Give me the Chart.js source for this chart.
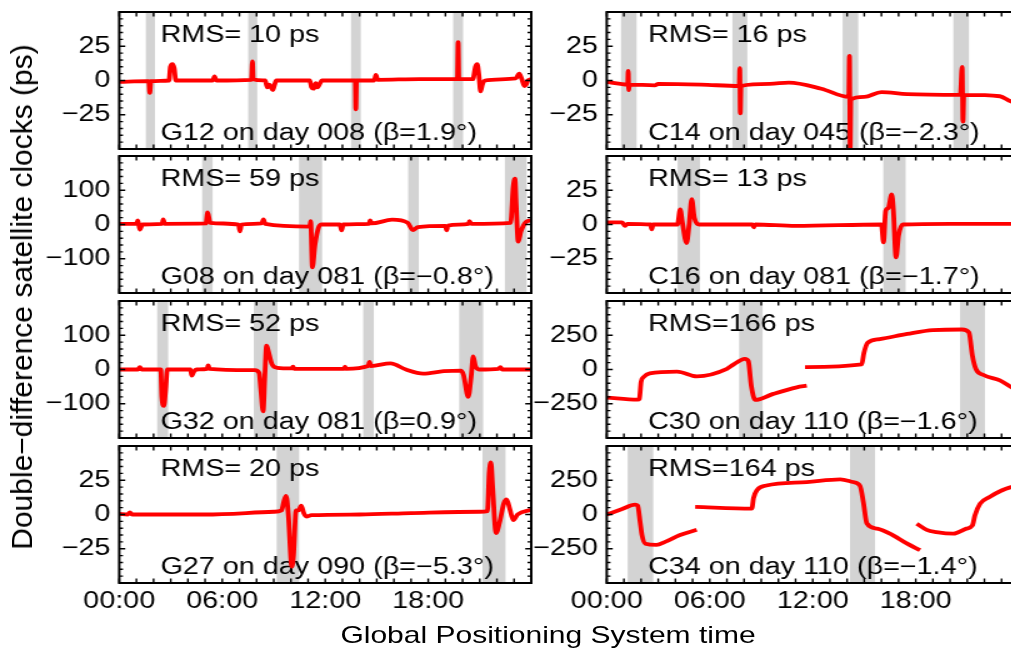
<!DOCTYPE html>
<html>
<head>
<meta charset="utf-8">
<script src="https://cdn.jsdelivr.net/npm/chart.js@4.4.1/dist/chart.umd.min.js"></script>
<style>
  html, body { margin: 0; padding: 0; background: #fff; width: 1011px; height: 651px; overflow: hidden; }
  /* the original figure has wide, low lettering: draw at 1x and stretch sideways */
  #fig { position: absolute; left: 0; top: 0; width: 809px; height: 651px; transform: scaleX(1.25); transform-origin: 0 0; }
  #fig canvas { position: absolute; }
  #xtitle { position: absolute; left: 438.4px; top: 622.5px; transform: translateX(-50%); white-space: nowrap;
    font: 24px "Liberation Sans", Arial, sans-serif; line-height: 24px; color: #000; }
  #ytitle { position: absolute; left: 22px; top: 297px; transform: translate(-50%, -50%) rotate(-90deg); white-space: nowrap;
    font: 30px "Liberation Sans", Arial, sans-serif; line-height: 30px; color: #000; }
</style>
</head>
<body>
<div id="fig">
  <div id="xtitle">Global Positioning System time</div>
</div>
<div id="ytitle">Double&#8722;difference satellite clocks (ps)</div>
<script>
// x axis: hours of the day
const hourTicks = [0, 6, 12, 18];
const hourLabels = ['00:00', '06:00', '12:00', '18:00'];

// y axis labels for the three panel ranges
const ticks50 = [-25, 0, 25];
const ticks200 = [-100, 0, 100];
const ticks500 = [-250, 0, 250];

// eclipse seasons (shaded), [start, end] in hours
const g12Shade = [[1.55, 2.08], [7.51, 8.04], [13.5, 14.07], [19.45, 20.03]];
const c14Shade = [[0.83, 1.74], [7.32, 8.19], [13.74, 14.65], [20.19, 21.1]];
const g08Shade = [[4.83, 5.44], [10.47, 11.82], [16.83, 17.45], [22.46, 23.73]];
const c16Shade = [[4.13, 5.43], [16.11, 17.41]];
const g32Shade = [[2.21, 2.85], [7.84, 9.22], [14.21, 14.83], [19.8, 21.2]];
const c30Shade = [[7.71, 9.08], [20.58, 22.03]];
const g27Shade = [[9.17, 10.48], [21.16, 22.5]];
const c34Shade = [[1.22, 2.71], [14.17, 15.63]];

// double-difference clock series, [hour, ps]; null starts a new arc
const g12Clock = [[0, -1], [1.6, -0.5], [1.72, -0.5], [1.78, -9], [1.84, -0.5], [2.9, 0], [2.98, 10], [3.1, 12], [3.2, 9], [3.3, 0],
  [5.45, 0], [5.55, 3], [5.65, 0], [7.7, 0.5], [7.76, 14], [7.8, 1], [8.5, 0], [8.62, -5], [8.75, -3], [8.85, -5], [8.95, -7],
  [9.05, -3], [9.15, 0], [11.1, 0], [11.2, -5], [11.32, -6], [11.45, -2], [11.55, -5], [11.7, -2], [11.8, 0], [13.75, 0],
  [13.78, -21], [13.82, 0], [14.85, 0], [14.95, 4], [15.05, 0.5], [17.5, 1], [19.7, 1], [19.74, 28], [19.78, 1], [20.6, 1],
  [20.75, 10], [20.85, 12], [20.95, 4], [21.05, -8], [21.15, -3], [21.3, 0], [23.1, 1.5], [23.3, 5], [23.45, 1], [23.6, -4],
  [23.7, -3], [23.8, 0], [24, 1]];
const c14Clock = [[0, -1], [0.8, -2.5], [1.22, -3], [1.25, 7], [1.28, -7], [1.32, -3], [2.8, -3.5], [3.0, -2.5], [5.5, -3],
  [7.72, -4], [7.75, 9], [7.78, -24], [7.82, -4], [9.5, -2.5], [10.6, -1.5], [12.5, -6], [14.1, -12], [14.14, 18], [14.18, -50],
  [14.22, -14], [15, -12], [16.0, -8.5], [17.5, -10], [20.6, -10.5], [20.7, 10], [20.75, -30], [20.8, -10.5], [22.9, -11.5],
  [23.5, -15], [24, -17]];
const g08Clock = [[0, 2], [1.0, 2], [1.08, 12], [1.2, -15], [1.35, 0], [2.5, 2], [2.56, 15], [2.65, 2], [5.05, 3], [5.15, 35],
  [5.3, 5], [6.95, 0], [7.03, -20], [7.12, 0], [8.3, 3], [8.4, 15], [8.5, 2], [11.1, -6], [11.15, 10], [11.25, -125], [11.4, -60],
  [11.6, -10], [11.8, 0], [12.85, 0], [12.95, -17], [13.05, 0], [14.55, 2], [14.62, 12], [14.7, 3], [15.9, 14], [16.8, 5],
  [17.1, -16], [17.4, -8], [19.0, -4], [19.07, -17], [19.15, -3], [20.35, 2], [20.4, 10], [20.5, 2], [22.8, 5], [22.95, 110],
  [23.05, 134], [23.12, 60], [23.24, -50], [23.4, -20], [23.7, 8], [24, 12]];
const c16Clock = [[0, 1.5], [0.9, 1.5], [1.05, -1], [1.2, 0.5], [2.55, 0], [2.62, -3.5], [2.7, 0], [4.12, 0], [4.28, 11], [4.4, 2],
  [4.65, -13.5], [4.8, 0], [4.95, 18.5], [5.1, 5], [5.4, 0], [8.5, 0], [8.56, -2], [8.65, 0], [11, -1], [16.0, 0], [16.12, -13],
  [16.25, 10], [16.4, 12], [16.6, 22], [16.7, 10], [16.85, -24], [17.0, -8], [17.25, 0], [20, 0.5], [24, 0.5]];
const g32Clock = [[0, 0], [1.1, 0], [1.2, 7], [1.3, 0], [2.42, 0], [2.48, -80], [2.6, -106], [2.7, -60], [2.8, 0], [4.15, 0],
  [4.22, -18], [4.35, -6], [4.5, 0], [5.12, 2], [5.18, 12], [5.25, 2], [7.9, -2], [8.15, -10], [8.25, -60], [8.38, -122],
  [8.48, -20], [8.58, 70], [8.65, 60], [8.9, 15], [9.2, 5], [10.05, 3], [10.12, 8], [10.2, 2], [13.1, 2], [13.15, 8], [13.2, 2],
  [14.5, 10], [14.58, 22], [14.66, 10], [15.8, 18], [16.7, 0], [17.7, -12], [18.9, -5], [19.9, -3], [20.05, -15], [20.33, -80],
  [20.5, -20], [20.62, 38], [20.75, 10], [21.0, 0], [22.1, 2], [22.2, 7], [22.3, 0], [24, 0]];
const c30Clock = [[0, -205], [1.8, -220], [1.9, -215], [2.0, -90], [2.15, -55], [2.5, -28], [4.1, -15], [5.25, -50], [7.0, 5],
  [7.3, 30], [8.05, 78], [8.25, 60], [8.42, -120], [8.65, -222], [9.7, -178], [11.07, -130], [11.65, -118], [11.65, null],
  [11.55, 18], [14.85, 37], [14.98, 120], [15.2, 195], [15.9, 222], [17.5, 260], [19.0, 288], [20.7, 292], [21.1, 270],
  [21.3, 100], [21.5, 5], [21.95, -40], [22.9, -80], [23.55, -128], [24, -160]];
const g27Clock = [[0, 0.5], [0.5, 0], [0.62, 1.5], [0.75, 0], [5, 0], [9.0, 2], [9.45, 3], [9.6, 10], [9.72, 13.5], [9.85, 0],
  [10.05, -38], [10.15, -30], [10.3, 3], [10.45, 3], [10.6, 6.5], [10.75, 1], [10.9, -1.5], [11.2, -0.5], [14, 0], [17, 1],
  [21.0, 2], [21.45, 2.5], [21.55, 30], [21.65, 38], [21.75, 20], [21.95, -13.5], [22.15, -6], [22.4, 8], [22.56, 11],
  [22.75, 4], [22.95, -4], [23.2, 0], [24, 3.5]];
const c34Clock = [[0, 0], [0.9, 40], [1.65, 72], [1.8, 65], [1.95, -60], [2.05, -150], [2.25, -213], [2.9, -222], [3.4, -200],
  [4.27, -150], [5.24, -112], [5.24, null], [5.15, 55], [8.45, 43], [8.55, 120], [8.75, 178], [9.3, 212], [11.65, 237],
  [13.6, 257], [14.35, 237], [14.75, 210], [14.95, 90], [15.15, -65], [15.75, -103], [16.5, -140], [17.5, -213], [18.25, -260],
  [18.25, null], [18.06, -67], [18.64, -112], [19.2, -128], [20.2, -140], [20.95, -103], [21.3, -80], [21.45, -5], [21.75, 79],
  [22.3, 128], [23.0, 175], [23.5, 198], [24, 210]];

var panels = [
  { col: 0, row: 0, pts: g12Clock, shade: g12Shade, range: 50, major: ticks50, minor: 5, rms: 'RMS= 10 ps', label: 'G12 on day 008 (\u03b2=1.9\u00b0)' },
  { col: 1, row: 0, pts: c14Clock, shade: c14Shade, range: 50, major: ticks50, minor: 5, rms: 'RMS= 16 ps', label: 'C14 on day 045 (\u03b2=\u22122.3\u00b0)' },
  { col: 0, row: 1, pts: g08Clock, shade: g08Shade, range: 200, major: ticks200, minor: 20, rms: 'RMS= 59 ps', label: 'G08 on day 081 (\u03b2=\u22120.8\u00b0)' },
  { col: 1, row: 1, pts: c16Clock, shade: c16Shade, range: 50, major: ticks50, minor: 5, rms: 'RMS= 13 ps', label: 'C16 on day 081 (\u03b2=\u22121.7\u00b0)' },
  { col: 0, row: 2, pts: g32Clock, shade: g32Shade, range: 200, major: ticks200, minor: 20, rms: 'RMS= 52 ps', label: 'G32 on day 081 (\u03b2=0.9\u00b0)' },
  { col: 1, row: 2, pts: c30Clock, shade: c30Shade, range: 500, major: ticks500, minor: 50, rms: 'RMS=166 ps', label: 'C30 on day 110 (\u03b2=\u22121.6\u00b0)' },
  { col: 0, row: 3, pts: g27Clock, shade: g27Shade, range: 50, major: ticks50, minor: 5, rms: 'RMS= 20 ps', label: 'G27 on day 090 (\u03b2=\u22125.3\u00b0)' },
  { col: 1, row: 3, pts: c34Clock, shade: c34Shade, range: 500, major: ticks500, minor: 50, rms: 'RMS=164 ps', label: 'C34 on day 110 (\u03b2=\u22121.4\u00b0)' }
];

var FONT = '"Liberation Sans", Arial, Helvetica, sans-serif';
Chart.defaults.font.family = FONT;
Chart.defaults.font.size = 23;
Chart.defaults.color = '#000';

// canvas placement, in unstretched px
var colLeft = [25, 415];
var rowTop = [12, 156, 301, 446];

function segments(pts) {
  var out = [[]];
  pts.forEach(function (q) {
    if (q[1] === null) out.push([]);
    else out[out.length - 1].push({ x: q[0], y: q[1] });
  });
  return out;
}

function minusSign(v) {
  return v < 0 ? '\u2212' + Math.abs(v) : String(v);
}

function decor(p) {
  return {
    id: 'decor',
    beforeDatasetsDraw: function (chart) {
      var ctx = chart.ctx, a = chart.chartArea, x = chart.scales.x;
      ctx.save();
      ctx.fillStyle = '#d3d3d3';
      p.shade.forEach(function (s) {
        var x0 = x.getPixelForValue(s[0]), x1 = x.getPixelForValue(s[1]);
        ctx.fillRect(x0, a.top, x1 - x0, a.bottom - a.top);
      });
      ctx.fillStyle = '#000';
      ctx.font = '23px ' + FONT;
      ctx.textBaseline = 'alphabetic';
      ctx.textAlign = 'left';
      ctx.fillText(p.rms, a.left + 33, a.top + 29.5);
      ctx.fillText(p.label, a.left + 33, a.top + 128);
      ctx.restore();
    },
    afterDatasetsDraw: function (chart) {
      var ctx = chart.ctx, a = chart.chartArea, x = chart.scales.x, y = chart.scales.y;
      var h, v, px, py, len;
      ctx.save();
      ctx.strokeStyle = '#000';
      ctx.lineWidth = 1.4;
      ctx.beginPath();
      for (h = 0; h <= 24; h += 1) {
        px = x.getPixelForValue(h);
        ctx.moveTo(px, a.top); ctx.lineTo(px, a.top + 4.5);
        ctx.moveTo(px, a.bottom); ctx.lineTo(px, a.bottom - 4.5);
      }
      for (v = -p.range; v <= p.range; v += p.minor) {
        py = y.getPixelForValue(v);
        len = p.major.indexOf(v) >= 0 ? 4.8 : 3;
        ctx.moveTo(a.left, py); ctx.lineTo(a.left + len, py);
        ctx.moveTo(a.right, py); ctx.lineTo(a.right - len, py);
      }
      ctx.stroke();
      ctx.lineWidth = 2;
      ctx.strokeRect(a.left, a.top, a.right - a.left, a.bottom - a.top);
      ctx.restore();
    }
  };
}

var fig = document.getElementById('fig');

panels.forEach(function (p) {
  var last = p.row === 3;
  var w = 410, hgt = last ? 195 : 153;
  var cv = document.createElement('canvas');
  cv.width = w; cv.height = hgt;
  cv.style.width = w + 'px'; cv.style.height = hgt + 'px';
  cv.style.left = colLeft[p.col] + 'px';
  cv.style.top = (rowTop[p.row] - 8) + 'px';
  fig.appendChild(cv);

  new Chart(cv, {
    type: 'line',
    data: {
      datasets: segments(p.pts).map(function (seg) {
        return {
          data: seg,
          borderColor: '#ff0000',
          borderWidth: 3.8,
          pointRadius: 0,
          fill: false,
          cubicInterpolationMode: 'monotone'
        };
      })
    },
    options: {
      responsive: false,
      animation: false,
      events: [],
      layout: { padding: { top: 8, right: 10, bottom: 8, left: 0 } },
      plugins: { legend: { display: false }, tooltip: { enabled: false } },
      scales: {
        x: {
          type: 'linear', min: 0, max: 24,
          grid: { display: false, drawTicks: false },
          border: { display: false },
          ticks: {
            display: last, autoSkip: false, maxRotation: 0, padding: 5,
            callback: function (v) { return hourLabels[hourTicks.indexOf(v)]; }
          },
          afterBuildTicks: function (s) { s.ticks = hourTicks.map(function (v) { return { value: v }; }); },
          afterFit: function (s) { s.height = last ? 42 : 0; s.paddingLeft = 0; s.paddingRight = 0; }
        },
        y: {
          min: -p.range, max: p.range,
          grid: { display: false, drawTicks: false },
          border: { display: false },
          ticks: { padding: 7, autoSkip: false, callback: minusSign },
          afterBuildTicks: function (s) { s.ticks = p.major.map(function (v) { return { value: v }; }); },
          afterFit: function (s) { s.width = 70.4; s.paddingTop = 0; s.paddingBottom = 0; }
        }
      }
    },
    plugins: [decor(p)]
  });
});
</script>
</body>
</html>
